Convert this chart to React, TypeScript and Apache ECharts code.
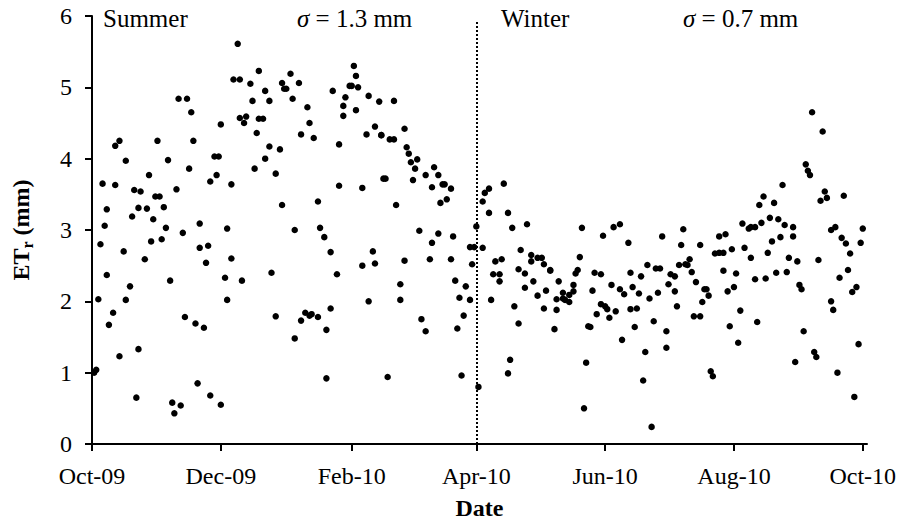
import React, { useEffect, useRef } from 'react';
import * as echarts from 'echarts';

// Days counted from 1 Oct 2009
const tickDays = [0, 61, 123, 182, 243, 304, 365];
const tickLabels = ['Oct-09', 'Dec-09', 'Feb-10', 'Apr-10', 'Jun-10', 'Aug-10', 'Oct-10'];
const seasonSplitDay = 182;

const summerDays = [
  1, 2, 3, 4, 5, 6, 7, 7, 8, 10, 11, 11, 13, 13, 15, 16, 16, 18, 19, 20,
  21, 22, 22, 23, 25, 26, 27, 28, 29, 30, 31, 32, 33, 34, 35, 36, 37, 38, 39, 40,
  41, 42, 43, 44, 45, 46, 47, 48, 49, 50, 51, 51, 53, 54, 55, 56, 56, 58, 59, 60,
  61, 61, 63, 64, 64, 66, 66, 67, 69, 70, 70, 71, 72, 73, 75, 76, 77, 78, 79, 79,
  81, 82, 82, 84, 84, 85, 87, 87, 89, 90, 90, 91, 92, 94, 95, 96, 96, 98, 99, 99,
  101, 102, 103, 103, 104, 105, 107, 107, 108, 110, 111, 111, 113, 113, 114, 116, 117, 117, 119, 119,
  120, 122, 123, 124, 125, 125, 126, 128, 128, 130, 131, 131, 133, 134, 134, 136, 137, 137, 138, 139,
  140, 141, 143, 143, 144, 146, 146, 148, 148, 149, 150, 151, 152, 153, 154, 155, 156, 158, 158, 160,
  161, 161, 162, 164, 164, 165, 166, 167, 168, 170, 170, 171, 172, 173, 174, 175, 176, 177, 179, 179,
  180, 181
];
const summerEt = [
  1.00, 1.04, 2.03, 2.80, 3.65, 3.06, 3.29, 2.37, 1.67, 1.84, 3.63, 4.18, 4.25, 1.23, 2.70, 3.97, 2.02, 2.21, 3.19, 3.56,
  0.65, 1.33, 3.31, 3.54, 2.59, 3.30, 3.77, 2.84, 3.15, 3.47, 4.25, 3.47, 2.87, 3.32, 3.03, 3.98, 2.29, 0.58, 0.43, 3.57,
  4.84, 0.54, 2.96, 1.78, 4.84, 3.86, 4.65, 4.25, 1.69, 0.85, 2.75, 3.09, 1.63, 2.54, 2.78, 0.68, 3.68, 4.03, 3.77, 4.03,
  4.48, 0.55, 2.33, 3.02, 2.02, 2.60, 3.64, 5.11, 5.61, 5.11, 4.57, 2.29, 4.50, 4.59, 5.05, 4.81, 3.86, 4.36, 5.23, 4.56,
  4.56, 4.00, 4.95, 4.81, 4.17, 2.40, 3.79, 1.79, 4.13, 5.06, 3.35, 4.98, 4.98, 5.19, 4.84, 3.00, 1.48, 5.06, 4.34, 1.73,
  1.84, 4.72, 4.50, 1.80, 1.82, 4.29, 1.78, 3.40, 3.03, 2.90, 1.60, 0.92, 1.90, 2.69, 4.95, 2.38, 3.62, 4.20, 4.74, 4.60,
  4.86, 5.02, 5.02, 5.30, 5.16, 4.68, 5.00, 3.59, 2.50, 4.34, 4.88, 2.00, 2.70, 4.45, 2.53, 4.80, 4.33, 4.33, 3.72, 3.72,
  0.94, 4.27, 4.81, 4.27, 3.35, 2.02, 2.24, 2.57, 4.42, 4.16, 4.07, 3.95, 3.70, 3.86, 3.99, 2.99, 1.75, 1.58, 3.77, 2.59,
  2.82, 3.60, 3.88, 2.95, 3.77, 3.38, 3.64, 3.64, 3.43, 3.58, 2.59, 2.91, 2.29, 1.62, 2.05, 0.96, 1.80, 2.21, 2.02, 2.76,
  2.52, 2.76
];

const winterDays = [
  182, 183, 185, 185, 186, 188, 188, 189, 190, 191, 193, 193, 194, 195, 197, 197, 198, 199, 200, 202,
  202, 203, 205, 205, 206, 208, 208, 209, 211, 211, 213, 214, 214, 215, 217, 217, 219, 220, 220, 221,
  223, 223, 224, 226, 226, 228, 228, 229, 230, 231, 232, 233, 234, 235, 236, 237, 238, 239, 241, 241,
  242, 243, 244, 245, 246, 247, 248, 250, 250, 251, 252, 254, 255, 255, 256, 257, 258, 259, 260, 261,
  262, 263, 264, 265, 266, 267, 268, 269, 270, 272, 272, 273, 274, 276, 276, 277, 278, 279, 280, 281,
  282, 283, 284, 285, 286, 288, 288, 289, 290, 291, 292, 293, 294, 295, 297, 297, 299, 299, 300, 301,
  302, 303, 304, 305, 306, 307, 308, 309, 311, 312, 312, 314, 314, 315, 316, 317, 318, 319, 320, 321,
  322, 323, 324, 325, 326, 327, 328, 329, 330, 332, 332, 333, 334, 335, 336, 337, 338, 339, 340, 341,
  342, 343, 344, 345, 346, 347, 348, 350, 350, 351, 352, 353, 354, 355, 356, 357, 358, 359, 360, 361,
  362, 363, 364, 365
];
const winterEt = [
  3.05, 0.80, 2.75, 3.40, 3.52, 3.58, 3.24, 2.02, 2.38, 2.56, 2.28, 2.38, 2.59, 3.65, 3.24, 0.99, 1.18, 3.03, 1.93, 2.45,
  1.69, 2.72, 2.39, 2.19, 3.08, 2.65, 2.56, 2.28, 2.61, 2.08, 2.61, 1.90, 2.52, 2.15, 2.43, 2.44, 1.61, 1.88, 2.03, 2.28,
  2.12, 2.04, 2.02, 1.99, 2.09, 2.23, 2.14, 2.39, 2.44, 2.62, 3.03, 0.50, 1.14, 1.65, 1.64, 2.15, 2.40, 1.82, 1.96, 2.38,
  2.92, 1.93, 1.89, 1.77, 2.23, 3.04, 1.86, 2.17, 3.08, 1.46, 2.10, 2.82, 1.89, 2.40, 2.20, 1.64, 1.90, 2.11, 2.35, 0.89,
  1.29, 2.51, 2.04, 0.24, 1.72, 2.46, 2.12, 2.46, 2.91, 1.58, 1.35, 2.24, 2.38, 2.14, 2.35, 1.93, 2.51, 2.79, 3.01, 2.52,
  2.51, 2.59, 2.41, 1.79, 2.27, 2.79, 1.79, 1.99, 2.17, 2.17, 2.08, 1.02, 0.95, 2.67, 2.68, 2.91, 2.68, 2.43, 2.94, 2.14,
  1.65, 2.73, 2.20, 2.39, 1.42, 1.87, 3.09, 2.75, 3.02, 3.04, 2.61, 3.04, 2.31, 1.71, 3.35, 3.10, 3.47, 2.32, 2.68, 3.17,
  2.84, 3.38, 2.40, 3.15, 2.90, 3.63, 3.07, 2.41, 2.61, 2.91, 3.04, 1.15, 2.56, 2.23, 2.17, 1.58, 3.92, 3.83, 3.77, 4.65,
  1.29, 1.22, 2.58, 3.41, 4.38, 3.54, 3.45, 3.00, 2.00, 1.88, 3.04, 1.00, 2.33, 2.89, 3.48, 2.81, 2.44, 2.67, 2.13, 0.66,
  2.20, 1.40, 2.82, 3.02
];

const annotations = [
  { text: 'Summer', x: 103 },
  { text: '{i|σ} = 1.3 mm', x: 297 },
  { text: 'Winter', x: 501 },
  { text: '{i|σ} = 0.7 mm', x: 683 },
];

const FONT = '"Liberation Serif", "Times New Roman", serif';

export default function App() {
  const ref = useRef<HTMLDivElement>(null);
  useEffect(() => {
    if (!ref.current) return;
    const chart = echarts.init(ref.current, null, { renderer: 'svg' });
    const summer = summerDays.map((d, i) => [d, summerEt[i]]);
    const winter = winterDays.map((d, i) => [d, winterEt[i]]);
    const axisLine = { show: true, lineStyle: { color: '#000', width: 2 } };
    const labelStyle = { color: '#000', fontFamily: FONT, fontSize: 24 };
    const dotStyle = { color: '#000', opacity: 1, borderWidth: 0 };
    chart.setOption({
      animation: false,
      backgroundColor: '#fff',
      grid: { left: 92, right: 34, top: 16, bottom: 86 },
      xAxis: {
        type: 'value',
        min: 0,
        max: 367,
        name: 'Date',
        nameLocation: 'middle',
        nameGap: 52,
        nameTextStyle: { color: '#000', fontFamily: FONT, fontSize: 24, fontWeight: 'bold' },
        axisLine,
        axisTick: { show: true, length: 7, lineStyle: { color: '#000', width: 2 }, customValues: tickDays },
        axisLabel: {
          ...labelStyle,
          margin: 20,
          customValues: tickDays,
          formatter: (v: number) => tickLabels[tickDays.indexOf(v)] ?? '',
        },
        splitLine: { show: false },
      },
      yAxis: {
        type: 'value',
        min: 0,
        max: 6,
        interval: 1,
        name: '{b|ET}{s|r}{b| (mm)}',
        nameLocation: 'middle',
        nameGap: 57,
        nameTextStyle: {
          rich: {
            b: { fontFamily: FONT, fontSize: 24, fontWeight: 'bold', color: '#000', lineHeight: 28 },
            s: { fontFamily: FONT, fontSize: 16, fontWeight: 'bold', color: '#000', lineHeight: 16, verticalAlign: 'bottom' },
          },
        },
        axisLine,
        axisTick: { show: true, length: 7, lineStyle: { color: '#000', width: 2 } },
        axisLabel: { ...labelStyle, margin: 20 },
        splitLine: { show: false },
      },
      graphic: annotations.map((a) => ({
        type: 'text',
        x: a.x,
        y: 18,
        silent: true,
        style: {
          text: a.text,
          fill: '#000',
          font: `25px ${FONT}`,
          textAlign: 'left',
          textVerticalAlign: 'middle',
          rich: { i: { fontStyle: 'italic', fontFamily: FONT, fontSize: 25, fill: '#000' } },
        },
      })),
      series: [
        {
          name: 'Summer',
          type: 'scatter',
          data: summer,
          symbol: 'circle',
          symbolSize: 6.5,
          itemStyle: dotStyle,
          markLine: {
            silent: true,
            symbol: ['none', 'none'],
            label: { show: false },
            lineStyle: { color: '#000', type: 'dotted', width: 2, opacity: 1 },
            data: [[{ coord: [seasonSplitDay, 0] }, { coord: [seasonSplitDay, 5.93] }]],
          },
        },
        {
          name: 'Winter',
          type: 'scatter',
          data: winter,
          symbol: 'circle',
          symbolSize: 6.5,
          itemStyle: dotStyle,
        },
      ],
    });
    return () => chart.dispose();
  }, []);
  return (
    <div
      ref={ref}
      style={{ position: 'fixed', left: 0, top: 0, width: 901, height: 530, background: '#fff' }}
    />
  );
}
